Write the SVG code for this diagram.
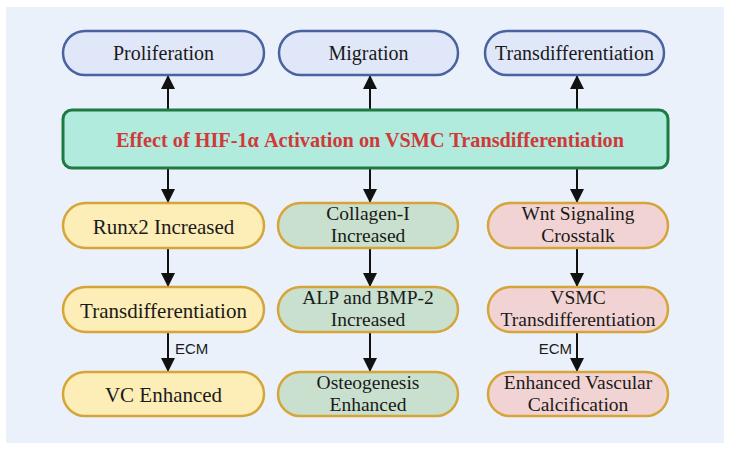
<svg xmlns="http://www.w3.org/2000/svg" width="732" height="452" viewBox="0 0 732 452">
<style>
.top{fill:#dfe7f8;stroke:#4a62a0;stroke-width:2.5}
.yel{fill:#fdedb6;stroke:#d6a53a;stroke-width:2.5}
.grn{fill:#c8e0cd;stroke:#d6a53a;stroke-width:2.5}
.pnk{fill:#f2d3d3;stroke:#d6a53a;stroke-width:2.5}
.c{stroke:#111;stroke-width:2;fill:none;marker-end:url(#ah)}
</style>
<defs>
<marker id="ah" viewBox="0 0 14 14" refX="14" refY="7" markerWidth="14" markerHeight="14" markerUnits="userSpaceOnUse" orient="auto">
<path d="M0,0 L14,7 L0,14 Z" fill="#111"/>
</marker>
</defs>
<rect x="0" y="0" width="732" height="452" fill="#ffffff"/>
<rect x="6" y="7" width="718" height="436" fill="#eaf1fb"/>

<g id="connectors">
<line class="c" x1="168" y1="110" x2="168" y2="75"/>
<line class="c" x1="370" y1="110" x2="370" y2="75"/>
<line class="c" x1="577" y1="110" x2="577" y2="75"/>
<line class="c" x1="168" y1="168" x2="168" y2="203"/>
<line class="c" x1="370" y1="168" x2="370" y2="203"/>
<line class="c" x1="577" y1="168" x2="577" y2="203"/>
<line class="c" x1="168" y1="248" x2="168" y2="287"/>
<line class="c" x1="370" y1="248" x2="370" y2="287"/>
<line class="c" x1="577" y1="248" x2="577" y2="287"/>
<line class="c" x1="168" y1="332" x2="168" y2="372"/>
<line class="c" x1="370" y1="332" x2="370" y2="372"/>
<line class="c" x1="577" y1="332" x2="577" y2="372"/>
<g font-family="Liberation Sans, Arial, sans-serif" font-size="15" fill="#1a1a1a">
<text x="175" y="354">ECM</text>
<text x="572" y="354" text-anchor="end">ECM</text>
</g>
</g>

<g font-family="Liberation Serif, Times New Roman, serif" fill="#1a1a1a" text-anchor="middle">
<g id="n-proliferation">
<rect class="top" x="63" y="31" width="201" height="44" rx="22"/>
<text x="163.5" y="60" font-size="20">Proliferation</text>
</g>
<g id="n-migration">
<rect class="top" x="279" y="31" width="179" height="44" rx="22"/>
<text x="368.5" y="60" font-size="20">Migration</text>
</g>
<g id="n-transdiff-top">
<rect class="top" x="485" y="31" width="179" height="44" rx="22"/>
<text x="574.5" y="60" font-size="20">Transdifferentiation</text>
</g>

<g id="n-main">
<rect x="63" y="110" width="605" height="58" rx="9" fill="#b1ebdd" stroke="#1d7a40" stroke-width="3"/>
<text x="370" y="147" font-size="22" font-weight="bold" fill="#d0393a" textLength="508" lengthAdjust="spacingAndGlyphs">Effect of HIF-1α Activation on VSMC Transdifferentiation</text>
</g>

<g id="n-runx2">
<rect class="yel" x="63" y="203" width="201" height="45" rx="22.5"/>
<text x="163.5" y="234" font-size="21">Runx2 Increased</text>
</g>
<g id="n-transdiff-1">
<rect class="yel" x="63" y="287" width="201" height="45" rx="22.5"/>
<text x="163.5" y="318" font-size="21">Transdifferentiation</text>
</g>
<g id="n-vc">
<rect class="yel" x="63" y="372" width="201" height="44" rx="22"/>
<text x="163.5" y="402" font-size="21">VC Enhanced</text>
</g>

<g id="n-collagen">
<rect class="grn" x="278" y="203" width="180" height="45" rx="22.5"/>
<text x="368" y="220" font-size="19.5">Collagen-I</text>
<text x="368" y="242" font-size="19.5">Increased</text>
</g>
<g id="n-alp">
<rect class="grn" x="278" y="287" width="180" height="45" rx="22.5"/>
<text x="368" y="304" font-size="19.5">ALP and BMP-2</text>
<text x="368" y="326" font-size="19.5">Increased</text>
</g>
<g id="n-osteo">
<rect class="grn" x="278" y="372" width="180" height="44" rx="22"/>
<text x="368" y="389" font-size="19.5">Osteogenesis</text>
<text x="368" y="411" font-size="19.5">Enhanced</text>
</g>

<g id="n-wnt">
<rect class="pnk" x="488" y="203" width="180" height="45" rx="22.5"/>
<text x="578" y="220" font-size="19.5">Wnt Signaling</text>
<text x="578" y="242" font-size="19.5">Crosstalk</text>
</g>
<g id="n-vsmc">
<rect class="pnk" x="488" y="287" width="180" height="45" rx="22.5"/>
<text x="578" y="304" font-size="19.5">VSMC</text>
<text x="578" y="326" font-size="19.5">Transdifferentiation</text>
</g>
<g id="n-evc">
<rect class="pnk" x="488" y="372" width="180" height="44" rx="22"/>
<text x="578" y="389" font-size="19.5">Enhanced Vascular</text>
<text x="578" y="411" font-size="19.5">Calcification</text>
</g>
</g>
</svg>
